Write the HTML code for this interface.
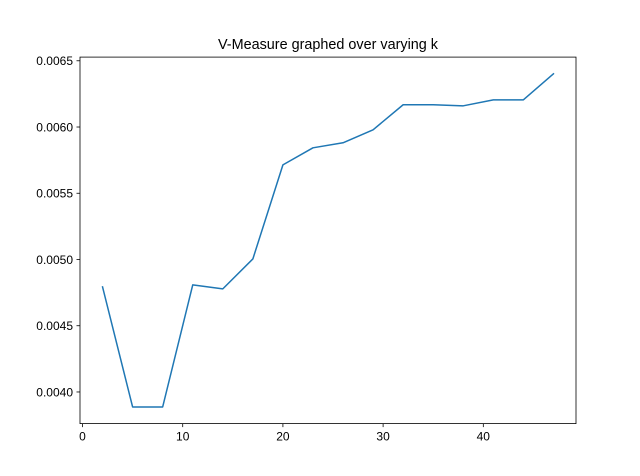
<!DOCTYPE html>
<html><head><meta charset="utf-8"><style>
html,body{margin:0;padding:0;background:#fff;}
svg{display:block;font-family:"Liberation Sans","DejaVu Sans",sans-serif;}
</style></head><body>
<svg id="chart" width="640" height="476"></svg>
<script>
const kValues = [2,5,8,11,14,17,20,23,26,29,32,35,38,41,44,47];
const vMeasure = [0.004793,0.003887,0.003887,0.004808,0.004778,0.005004,0.005714,0.005843,0.005881,0.005979,0.006168,0.006168,0.006160,0.006205,0.006205,0.006402];
const xTicks = [0,10,20,30,40];
const yTicks = [0.0040,0.0045,0.0050,0.0055,0.0060,0.0065];
const yTickLabels = ["0.0040","0.0045","0.0050","0.0055","0.0060","0.0065"];

const NS="http://www.w3.org/2000/svg";
const svg=document.getElementById('chart');
const L=80,R=576,T=57.1,B=423.6;
const xmin0=Math.min(...kValues),xmax0=Math.max(...kValues);
const ymin0=Math.min(...vMeasure),ymax0=Math.max(...vMeasure);
const xm=(xmax0-xmin0)*0.05,ym=(ymax0-ymin0)*0.05;
const xmin=xmin0-xm,xmax=xmax0+xm,ymin=ymin0-ym,ymax=ymax0+ym;
const xs=v=>L+(v-xmin)/(xmax-xmin)*(R-L);
const ys=v=>B-(v-ymin)/(ymax-ymin)*(B-T);
function mk(tag,attrs,parent){const e=document.createElementNS(NS,tag);for(const k in attrs)e.setAttribute(k,attrs[k]);(parent||svg).appendChild(e);return e;}

const title=mk('text',{x:(L+R)/2,y:49,'text-anchor':'middle','font-size':'14.4',fill:'#000'});


title.textContent='V-Measure graphed over varying k';

xTicks.forEach(t=>{const x=xs(t);
 const ln=mk('line',{x1:x,x2:x,y1:B,y2:B+3.5,stroke:'#000','stroke-width':0.8});
 
 
 const tx=mk('text',{x:x,y:B+17,'text-anchor':'middle','font-size':'12',fill:'#000'});
 
 
 tx.textContent=t;});
yTicks.forEach((t,i)=>{const y=ys(t);
 const ln=mk('line',{x1:L-3.5,x2:L,y1:y,y2:y,stroke:'#000','stroke-width':0.8});
 
 
 const tx=mk('text',{x:L-7,y:y+4.3,'text-anchor':'end','font-size':'12',fill:'#000'});
 
 
 tx.textContent=yTickLabels[i];});

const pts=kValues.map((k,i)=>xs(k).toFixed(2)+','+ys(vMeasure[i]).toFixed(2)).join(' ');
const line=mk('polyline',{points:pts,fill:'none',stroke:'#1f77b4','stroke-width':1.5,'stroke-linejoin':'round','stroke-linecap':'square'});



const frame=mk('rect',{x:L,y:T,width:R-L,height:B-T,fill:'none',stroke:'#000','stroke-width':0.8});


</script>
</body></html>
